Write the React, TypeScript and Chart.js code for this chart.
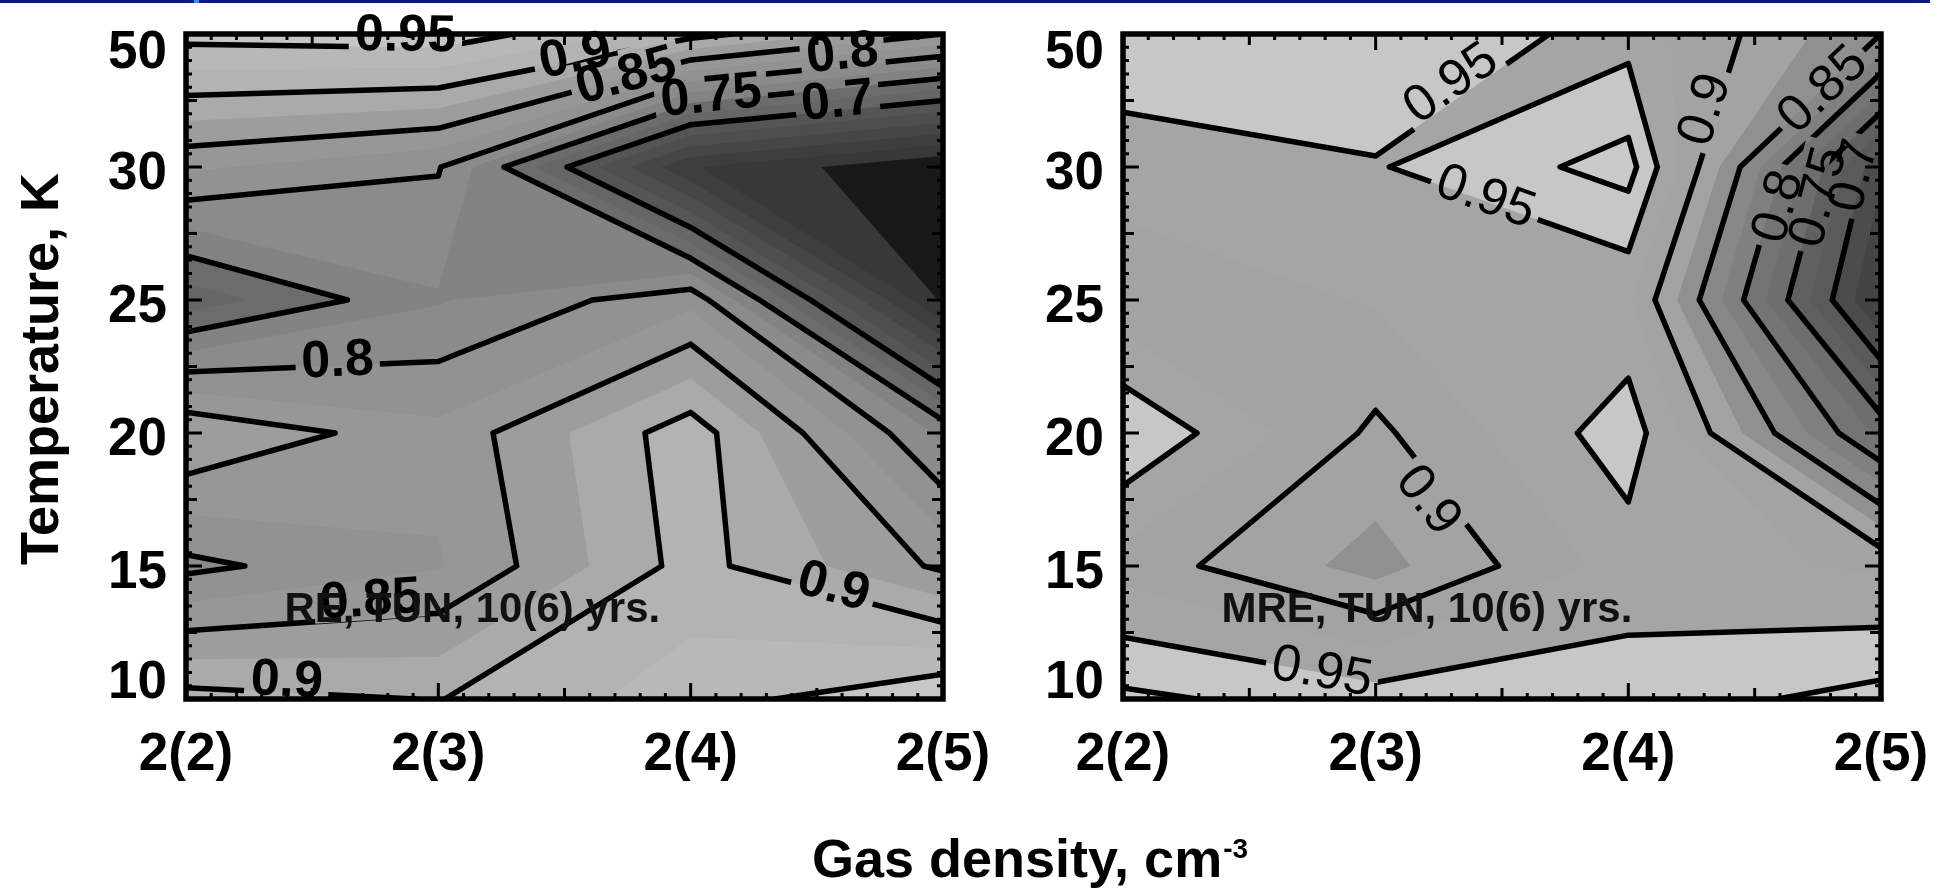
import React, { useEffect, useRef } from 'react';
import { Chart, registerables } from 'chart.js';

Chart.register(...registerables);

const W = 1952;
const H = 888;

const densityLabels = ['2(2)', '2(3)', '2(4)', '2(5)'];
const temperatureLabels = ['10', '15', '20', '25', '30', '50'];

// rows: temperature 10,15,20,25,30,50 K ; columns: density 2(2)..2(5)
const reGrid = [
  [0.91, 0.899, 0.938, 0.974],
  [0.793, 0.823, 0.91, 0.845],
  [0.876, 0.832, 0.915, 0.769],
  [0.71, 0.7725, 0.8176, 0.57],
  [0.83, 0.802, 0.602, 0.55],
  [0.96, 0.967, 0.91, 0.85],
];
const mreGrid = [
  [0.9804, 0.962, 0.962, 0.984],
  [0.915, 0.865, 0.937, 0.921],
  [0.973, 0.8945, 0.964, 0.767],
  [0.909, 0.927, 0.93, 0.645],
  [0.936, 0.948, 0.985, 0.68],
  [0.97, 0.972, 0.94, 0.85],
];

const lineLevels = [0.7, 0.75, 0.8, 0.85, 0.9, 0.95, 0.975];
const fillLevels = [0.575, 0.6, 0.625, 0.65, 0.675, 0.7, 0.725, 0.75, 0.775, 0.8, 0.825, 0.85, 0.875, 0.9, 0.925, 0.95, 0.975];
const reFillColors = [
  '#181818', '#383838', '#3e3e3e', '#464646', '#4e4e4e', '#555555', '#666666', '#6c6c6c',
  '#838383', '#8b8b8b', '#929292', '#979797', '#9d9d9d', '#aaaaaa', '#b3b3b3', '#b8b8b8',
  '#c6c6c6', '#cacaca',
];
const mreFillColors = [
  '#181818', '#303030', '#363636', '#3c3c3c', '#444444', '#4c4c4c', '#5a5a5a', '#606060',
  '#6e6e6e', '#747474', '#808080', '#888888', '#909090', '#a3a3a3', '#a3a3a3', '#a5a5a5',
  '#c7c7c7', '#cacaca',
];

// contour label anchors (data units: density index, temperature index)
const reLabelLevels = [0.95, 0.9, 0.85, 0.75, 0.8, 0.7, 0.8, 0.85, 0.9, 0.9];
const reLabelX = [0.87, 1.54, 1.74, 2.08, 2.6, 2.58, 0.6, 0.73, 2.57, 0.4];
const reLabelY = [5.015, 4.86, 4.71, 4.56, 4.88, 4.52, 2.57, 0.77, 0.87, 0.165];
const mreLabelLevels = [0.95, 0.95, 0.9, 0.85, 0.8, 0.75, 0.7, 0.9, 0.95];
const mreLabelX = [1.29, 1.44, 2.29, 2.76, 2.58, 2.74, 2.88, 1.22, 0.79];
const mreLabelY = [4.65, 3.8, 4.44, 4.6, 3.71, 3.78, 3.94, 1.51, 0.23];

const panelTexts = ['RE, TUN, 10(6) yrs.', 'MRE, TUN, 10(6) yrs.'];
const textAnchorX = 0.39;
const textAnchorY = 0.58;

type P = [number, number];
type Corner = [number, number, number];

function cornersOf(g: number[][], i: number, j: number): Corner[] {
  return [
    [i, j, g[j][i]],
    [i + 1, j, g[j][i + 1]],
    [i + 1, j + 1, g[j + 1][i + 1]],
    [i, j + 1, g[j + 1][i]],
  ];
}
function cross(a: Corner, b: Corner, L: number): P {
  const t = (L - a[2]) / (b[2] - a[2]);
  return [a[0] + t * (b[0] - a[0]), a[1] + t * (b[1] - a[1])];
}
function isSaddle(ins: boolean[]) {
  return ins[0] === ins[2] && ins[1] === ins[3] && ins[0] !== ins[1];
}
function regionPolys(g: number[][], L: number): P[][] {
  const polys: P[][] = [];
  for (let j = 0; j < g.length - 1; j++) {
    for (let i = 0; i < g[0].length - 1; i++) {
      const c = cornersOf(g, i, j);
      const ins = c.map((p) => p[2] >= L);
      const n = ins.filter(Boolean).length;
      if (n === 0) continue;
      if (n === 4) {
        polys.push(c.map((p) => [p[0], p[1]] as P));
        continue;
      }
      if (isSaddle(ins)) {
        for (let k = 0; k < 4; k++) {
          if (!ins[k]) continue;
          polys.push([cross(c[(k + 3) % 4], c[k], L), [c[k][0], c[k][1]], cross(c[k], c[(k + 1) % 4], L)]);
        }
        continue;
      }
      const out: P[] = [];
      for (let k = 0; k < 4; k++) {
        const a = c[k];
        const b = c[(k + 1) % 4];
        if (ins[k]) out.push([a[0], a[1]]);
        if (ins[k] !== ins[(k + 1) % 4]) out.push(cross(a, b, L));
      }
      polys.push(out);
    }
  }
  return polys;
}
function segmentsOf(g: number[][], L: number): [P, P][] {
  const segs: [P, P][] = [];
  for (let j = 0; j < g.length - 1; j++) {
    for (let i = 0; i < g[0].length - 1; i++) {
      const c = cornersOf(g, i, j);
      const ins = c.map((p) => p[2] >= L);
      const n = ins.filter(Boolean).length;
      if (n === 0 || n === 4) continue;
      if (isSaddle(ins)) {
        for (let k = 0; k < 4; k++) {
          if (!ins[k]) continue;
          segs.push([cross(c[(k + 3) % 4], c[k], L), cross(c[k], c[(k + 1) % 4], L)]);
        }
        continue;
      }
      const pts: P[] = [];
      for (let k = 0; k < 4; k++) {
        if (ins[k] !== ins[(k + 1) % 4]) pts.push(cross(c[k], c[(k + 1) % 4], L));
      }
      if (pts.length === 2) segs.push([pts[0], pts[1]]);
    }
  }
  return segs;
}

const FONT = '"Liberation Sans", Arial, Helvetica, sans-serif';

interface Panel {
  grid: number[][];
  colors: string[];
  labelLevels: number[];
  labelX: number[];
  labelY: number[];
  text: string;
  labelWeight: string;
  pad: { left: number; right: number; top: number; bottom: number };
}

const panels: Panel[] = [
  {
    grid: reGrid,
    colors: reFillColors,
    labelLevels: reLabelLevels,
    labelX: reLabelX,
    labelY: reLabelY,
    text: panelTexts[0],
    labelWeight: 'bold',
    pad: { left: 186, right: W - 943, top: 34, bottom: H - 699 },
  },
  {
    grid: mreGrid,
    colors: mreFillColors,
    labelLevels: mreLabelLevels,
    labelX: mreLabelX,
    labelY: mreLabelY,
    text: panelTexts[1],
    labelWeight: 'normal',
    pad: { left: 1123, right: W - 1881, top: 34, bottom: H - 699 },
  },
];

function tickLen(s: number) {
  if (s % 10 === 0) return 16;
  if (s % 5 === 0) return 11;
  return 6;
}

function drawPanel(chart: any, panel: Panel, first: boolean) {
  const ctx: CanvasRenderingContext2D = chart.ctx;
  const xs = chart.scales.x;
  const ys = chart.scales.y;
  const { left, right, top, bottom } = chart.chartArea;
  const px = (p: P): P => [xs.getPixelForValue(p[0]), ys.getPixelForValue(p[1])];

  // filled contours
  ctx.save();
  ctx.beginPath();
  ctx.rect(left, top, right - left, bottom - top);
  ctx.clip();
  ctx.fillStyle = panel.colors[0];
  ctx.fillRect(left, top, right - left, bottom - top);
  fillLevels.forEach((L, k) => {
    const polys = regionPolys(panel.grid, L);
    if (!polys.length) return;
    ctx.beginPath();
    polys.forEach((poly) => {
      poly.forEach((p, n) => {
        const q = px(p);
        if (n) ctx.lineTo(q[0], q[1]);
        else ctx.moveTo(q[0], q[1]);
      });
      ctx.closePath();
    });
    ctx.fillStyle = panel.colors[k + 1];
    ctx.fill();
  });
  ctx.restore();

  // labels: placed at their anchors, oriented along the nearest contour segment
  const labelSize = 52;
  ctx.font = `${panel.labelWeight} ${labelSize}px ${FONT}`;
  const placed = panel.labelLevels.map((lev, idx) => {
    const segs = segmentsOf(panel.grid, lev).map(([a, b]) => [px(a), px(b)] as [P, P]);
    const A = px([panel.labelX[idx], panel.labelY[idx]]);
    let ang = 0;
    let bd = Infinity;
    for (const [a, b] of segs) {
      const dx = b[0] - a[0];
      const dy = b[1] - a[1];
      const l2 = dx * dx + dy * dy;
      let t = l2 ? ((A[0] - a[0]) * dx + (A[1] - a[1]) * dy) / l2 : 0;
      t = Math.max(0, Math.min(1, t));
      const d = Math.hypot(a[0] + t * dx - A[0], a[1] + t * dy - A[1]);
      if (d < bd) {
        bd = d;
        ang = Math.atan2(dy, dx);
      }
    }
    if (ang > Math.PI / 2) ang -= Math.PI;
    if (ang < -Math.PI / 2) ang += Math.PI;
    const text = String(lev);
    const w = ctx.measureText(text).width;
    return { text, x: A[0], y: A[1], ang, w };
  });

  // contour lines with gaps for labels
  ctx.save();
  ctx.beginPath();
  ctx.rect(left, top, right - left, bottom - top);
  ctx.clip();
  ctx.beginPath();
  ctx.rect(0, 0, W, H);
  placed.forEach((lb) => {
    const hw = lb.w / 2 + 6;
    const hh = labelSize * 0.45;
    const cs = Math.cos(lb.ang);
    const sn = Math.sin(lb.ang);
    const pts: P[] = [
      [-hw, -hh],
      [hw, -hh],
      [hw, hh],
      [-hw, hh],
    ];
    pts.forEach(([u, v], n) => {
      const X = lb.x + u * cs - v * sn;
      const Y = lb.y + u * sn + v * cs;
      if (n) ctx.lineTo(X, Y);
      else ctx.moveTo(X, Y);
    });
    ctx.closePath();
  });
  ctx.clip('evenodd');
  ctx.beginPath();
  lineLevels.forEach((L) => {
    segmentsOf(panel.grid, L).forEach(([a, b]) => {
      const p = px(a);
      const q = px(b);
      ctx.moveTo(p[0], p[1]);
      ctx.lineTo(q[0], q[1]);
    });
  });
  ctx.strokeStyle = '#000';
  ctx.lineWidth = 5.5;
  ctx.lineCap = 'round';
  ctx.lineJoin = 'round';
  ctx.stroke();
  ctx.restore();

  // frame and ticks
  ctx.save();
  ctx.strokeStyle = '#000';
  ctx.lineWidth = 5.5;
  ctx.strokeRect(left, top, right - left, bottom - top);
  ctx.lineWidth = 3;
  ctx.beginPath();
  for (let s = 0; s <= (densityLabels.length - 1) * 10; s++) {
    const x = xs.getPixelForValue(s / 10);
    const len = tickLen(s);
    ctx.moveTo(x, bottom);
    ctx.lineTo(x, bottom - len);
    ctx.moveTo(x, top);
    ctx.lineTo(x, top + len);
  }
  for (let s = 0; s <= (temperatureLabels.length - 1) * 10; s++) {
    const y = ys.getPixelForValue(s / 10);
    const len = tickLen(s);
    ctx.moveTo(left, y);
    ctx.lineTo(left + len, y);
    ctx.moveTo(right, y);
    ctx.lineTo(right - len, y);
  }
  ctx.stroke();
  ctx.restore();

  // contour labels
  ctx.save();
  ctx.fillStyle = '#000';
  ctx.font = `${panel.labelWeight} ${labelSize}px ${FONT}`;
  ctx.textBaseline = 'alphabetic';
  placed.forEach((lb) => {
    ctx.save();
    ctx.translate(lb.x, lb.y);
    ctx.rotate(lb.ang);
    ctx.fillText(lb.text, -lb.w / 2, labelSize * 0.36);
    ctx.restore();
  });
  ctx.restore();

  // panel annotation
  ctx.save();
  ctx.fillStyle = '#111';
  ctx.font = `bold 42px ${FONT}`;
  ctx.textBaseline = 'alphabetic';
  ctx.fillText(panel.text, xs.getPixelForValue(textAnchorX), ys.getPixelForValue(textAnchorY));
  ctx.restore();

  // tick labels
  ctx.save();
  ctx.fillStyle = '#000';
  ctx.font = `bold 53px ${FONT}`;
  ctx.textBaseline = 'alphabetic';
  ctx.textAlign = 'center';
  densityLabels.forEach((lab, i) => {
    ctx.fillText(lab, xs.getPixelForValue(i), bottom + 71);
  });
  ctx.textAlign = 'right';
  temperatureLabels.forEach((lab, j) => {
    const y = Math.min(Math.max(ys.getPixelForValue(j) + 22, top + 34), bottom - 1);
    ctx.fillText(lab, left - 19, y);
  });
  ctx.restore();

  if (first) {
    ctx.save();
    ctx.fillStyle = '#0b1780';
    ctx.fillRect(0, 0, 1930, 3);
    ctx.fillStyle = '#3c8cf0';
    ctx.fillRect(194, 0, 5, 3);
    ctx.fillStyle = '#000';
    ctx.font = `bold 54px ${FONT}`;
    ctx.textBaseline = 'alphabetic';
    ctx.textAlign = 'left';
    const t = 'Gas density, cm';
    ctx.fillText(t, 812, 877);
    const tw = ctx.measureText(t).width;
    ctx.font = `bold 28px ${FONT}`;
    ctx.fillText('-3', 812 + tw + 1, 858);
    ctx.save();
    ctx.translate(58, 369);
    ctx.rotate(-Math.PI / 2);
    ctx.font = `bold 54px ${FONT}`;
    ctx.textAlign = 'center';
    ctx.fillText('Temperature, K', 0, 0);
    ctx.restore();
    ctx.restore();
  }
}

function makeConfig(panel: Panel, first: boolean): any {
  const points = panel.grid.flatMap((row, j) => row.map((v, i) => ({ x: i, y: j, v })));
  return {
    type: 'scatter',
    data: { datasets: [{ data: points, pointRadius: 0, showLine: false }] },
    options: {
      animation: false,
      responsive: false,
      maintainAspectRatio: false,
      devicePixelRatio: 1,
      events: [],
      layout: { padding: panel.pad },
      plugins: { legend: { display: false }, tooltip: { enabled: false } },
      scales: {
        x: { type: 'linear', min: 0, max: densityLabels.length - 1, display: false },
        y: { type: 'linear', min: 0, max: temperatureLabels.length - 1, display: false },
      },
    },
    plugins: [
      {
        id: 'contourPanel',
        afterDraw: (chart: any) => drawPanel(chart, panel, first),
      },
    ],
  };
}

export default function App() {
  const ref1 = useRef<HTMLCanvasElement>(null);
  const ref2 = useRef<HTMLCanvasElement>(null);
  useEffect(() => {
    const charts = [ref1, ref2].map((r, idx) => new Chart(r.current as HTMLCanvasElement, makeConfig(panels[idx], idx === 0)));
    return () => charts.forEach((c) => c.destroy());
  }, []);
  return (
    <div style={{ position: 'absolute', left: 0, top: 0, width: W, height: H, background: '#fff', overflow: 'hidden' }}>
      <canvas ref={ref1} width={W} height={H} style={{ position: 'absolute', left: 0, top: 0 }} />
      <canvas ref={ref2} width={W} height={H} style={{ position: 'absolute', left: 0, top: 0 }} />
    </div>
  );
}
